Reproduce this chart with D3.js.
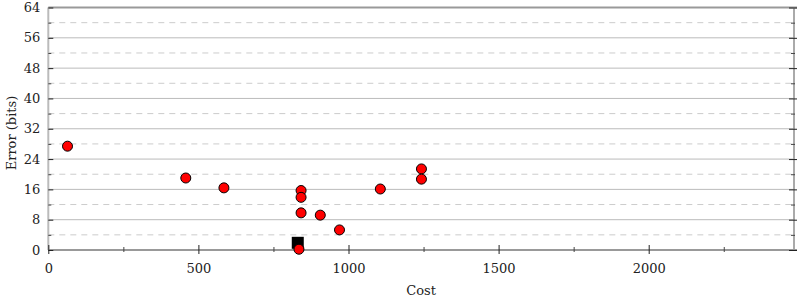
<!DOCTYPE html>
<html>
<head>
<meta charset="utf-8">
<script src="https://cdn.jsdelivr.net/npm/d3@7"></script>
<style>
  body { margin: 0; background: #fff; }
  text { font-family: "DejaVu Serif", serif; font-size: 13px; fill: #222; }
</style>
</head>
<body>
<div class="container"></div>
<script>
const pointCosts  = [64, 458, 585, 842, 842, 842, 906, 970, 1106, 1243, 1243, 835];
const pointErrors = [27.4, 19.0, 16.4, 15.7, 13.9, 9.8, 9.2, 5.3, 16.1, 21.4, 18.7, 0.2];
const bestCost = [831];
const bestError = [1.9];
const xTicks = [0, 500, 1000, 1500, 2000];
const xMinor = [250, 750, 1250, 1750, 2250];
const yTicks = [0, 8, 16, 24, 32, 40, 48, 56, 64];
const yMinor = [4, 12, 20, 28, 36, 44, 52, 60];

const margin = {top: 7.5, right: 6, bottom: 50, left: 48.3};
const width = 800, height = 300;
const innerW = width - margin.left - margin.right,
    innerH = height - margin.top - margin.bottom;

const svg = d3.select('.container')
    .append('svg')
    .attr('width', width)
    .attr('height', height);

const xScale = d3.scaleLinear()
    .domain([0, 2484])
    .range([0, innerW]);

const yScale = d3.scaleLinear()
    .domain([0, 64])
    .range([innerH, 0]);

const g = svg.append('g')
    .attr('transform', `translate(${margin.left},${margin.top})`);

// grid
g.selectAll('.grid-major')
    .data(yTicks.filter(d => d > 0))
    .enter().append('line')
    .attr('x1', 0).attr('x2', innerW)
    .attr('y1', d => yScale(d)).attr('y2', d => yScale(d))
    .attr('stroke', '#bbb').attr('stroke-width', 1);

g.selectAll('.grid-minor')
    .data(yMinor)
    .enter().append('line')
    .attr('x1', 0).attr('x2', innerW)
    .attr('y1', d => yScale(d)).attr('y2', d => yScale(d))
    .attr('stroke', '#ccc').attr('stroke-width', 1)
    .attr('stroke-dasharray', '6,5');

// frame lines
g.append('line')
    .attr('x1', 0).attr('x2', innerW + 3)
    .attr('y1', 0).attr('y2', 0)
    .attr('stroke', '#999').attr('stroke-width', 2);
g.append('line')
    .attr('x1', innerW).attr('x2', innerW)
    .attr('y1', 0).attr('y2', innerH)
    .attr('stroke', '#aaa').attr('stroke-width', 2);
g.append('line')
    .attr('x1', 0).attr('x2', innerW + 3)
    .attr('y1', innerH).attr('y2', innerH)
    .attr('stroke', '#999').attr('stroke-width', 2);
g.append('line')
    .attr('x1', 0).attr('x2', 0)
    .attr('y1', 0).attr('y2', innerH)
    .attr('stroke', '#bbb').attr('stroke-width', 2);

// bottom axis
const xAxis = d3.axisBottom(xScale).tickValues(xTicks).tickSize(4).tickPadding(10).tickFormat(d3.format('d'));
const xg = g.append('g').attr('transform', `translate(0,${innerH})`).call(xAxis);
xg.select('.domain').remove();
xg.selectAll('.tick line').attr('y1', -5).attr('stroke', '#222');
xg.selectAll('.tick text').style('font-family', '"DejaVu Serif", serif').style('font-size', '13px').attr('fill', '#222');

const xMinorAxis = d3.axisBottom(xScale).tickValues(xMinor).tickSize(2).tickFormat('');
const xmg = g.append('g').attr('transform', `translate(0,${innerH})`).call(xMinorAxis);
xmg.select('.domain').remove();
xmg.selectAll('.tick line').attr('y1', -3).attr('stroke', '#444');

// left axis
const yAxis = d3.axisLeft(yScale).tickValues(yTicks).tickSize(5).tickPadding(3).tickFormat(d3.format('d'));
const yg = g.append('g').call(yAxis);
yg.select('.domain').remove();
yg.selectAll('.tick line').attr('x2', 5).attr('stroke', '#222');
yg.selectAll('.tick text').style('font-family', '"DejaVu Serif", serif').style('font-size', '13px').attr('fill', '#222');

const yMinorAxis = d3.axisLeft(yScale).tickValues(yMinor).tickSize(2).tickFormat('');
const ymg = g.append('g').call(yMinorAxis);
ymg.select('.domain').remove();
ymg.selectAll('.tick line').attr('x2', 3).attr('stroke', '#444');

// right axis ticks (inward)
const rAxis = d3.axisRight(yScale).tickValues(yTicks).tickSize(3).tickFormat('');
const rg = g.append('g').attr('transform', `translate(${innerW},0)`).call(rAxis);
rg.select('.domain').remove();
rg.selectAll('.tick line').attr('x1', -5).attr('stroke', '#222');

const rMinorAxis = d3.axisRight(yScale).tickValues(yMinor).tickSize(1).tickFormat('');
const rmg = g.append('g').attr('transform', `translate(${innerW},0)`).call(rMinorAxis);
rmg.select('.domain').remove();
rmg.selectAll('.tick line').attr('x1', -3).attr('stroke', '#444');

// best point (square)
const sq = 12;
g.selectAll('.best')
    .data(bestCost.map((c, i) => [c, bestError[i]]))
    .enter().append('rect')
    .attr('x', d => xScale(d[0]) - sq / 2)
    .attr('y', d => yScale(d[1]) - sq / 2)
    .attr('width', sq).attr('height', sq)
    .attr('fill', '#000');

// points
g.selectAll('.pt')
    .data(pointCosts.map((c, i) => [c, pointErrors[i]]))
    .enter().append('circle')
    .attr('cx', d => xScale(d[0]))
    .attr('cy', d => yScale(d[1]))
    .attr('r', 5)
    .attr('fill', '#f00')
    .attr('stroke', '#000')
    .attr('stroke-width', 1);

// labels
svg.append('text')
    .attr('x', margin.left + innerW / 2)
    .attr('y', 295)
    .attr('text-anchor', 'middle')
    .text('Cost');

svg.append('text')
    .attr('transform', `translate(16,${133}) rotate(-90)`)
    .attr('text-anchor', 'middle')
    .text('Error (bits)');
</script>
</body>
</html>
